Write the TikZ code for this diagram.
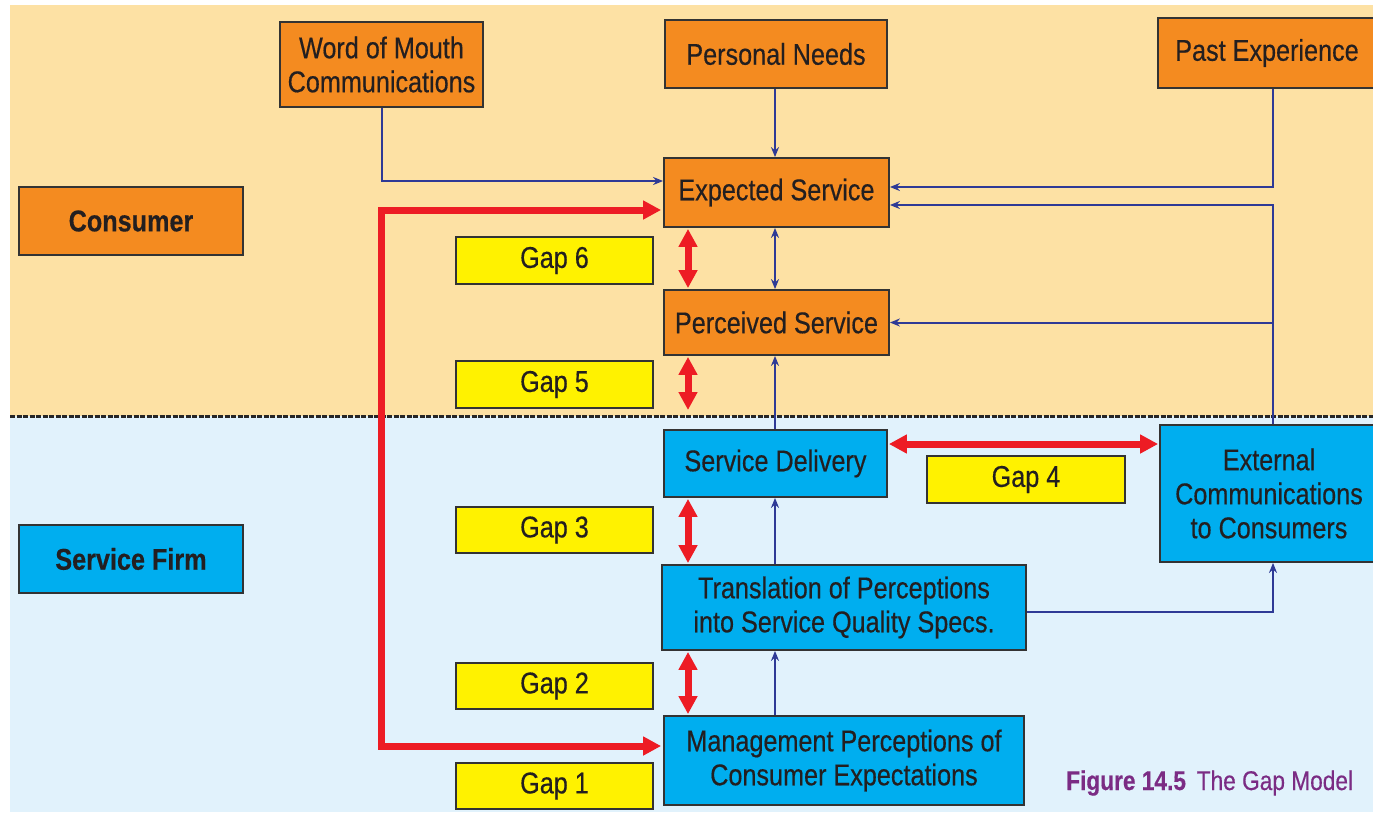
\documentclass[tikz,border=0pt]{standalone}
\usepackage{fontspec}
\setmainfont{Liberation Sans}[FakeStretch=0.84, FakeBold=0.4]
\usetikzlibrary{arrows.meta}
\definecolor{peach}{HTML}{FDE1A4}
\definecolor{lightblue}{HTML}{E1F2FC}
\definecolor{orangebox}{HTML}{F48B20}
\definecolor{bluebox}{HTML}{00AEEF}
\definecolor{yellowbox}{HTML}{FFF200}
\definecolor{redline}{HTML}{ED1C24}
\definecolor{blueline}{HTML}{2E3A96}
\definecolor{boxline}{HTML}{333333}
\definecolor{txt}{HTML}{231F20}
\definecolor{capcol}{HTML}{7B2C84}
\newcommand{\fs}{\fontsize{30}{34}\selectfont}
\newcommand{\capfs}{\fontsize{27}{32}\selectfont}
\tikzset{
  box/.style={draw=boxline, line width=1.8pt, inner sep=0pt, align=center, text=txt, font=\fs},
  obox/.style={box, fill=orangebox},
  bbox/.style={box, fill=bluebox},
  gbox/.style={box, fill=yellowbox},
  bl/.style={draw=blueline, line width=2pt, >={Stealth[length=10pt,width=8pt]}},
  rd/.style={draw=redline, line width=7pt, >={Triangle[length=18pt,width=18pt]}},
}
\begin{document}
\begin{tikzpicture}[x=1pt,y=-1pt]
\useasboundingbox (0,0) rectangle (1373,812);
\clip (0,0) rectangle (1373,812);
\fill[white] (0,0) rectangle (1373,812);
\fill[peach] (10,5) rectangle (1373,416);
\fill[lightblue] (10,416) rectangle (1373,812);
\draw[black!85, line width=3pt, dash pattern=on 5pt off 1.5pt] (10,416) -- (1373,416);

% consumer side
\node[obox, minimum width=203pt, minimum height=85pt] (wom) at (381.5,64.5) {Word of Mouth\\Communications};
\node[obox, minimum width=222pt, minimum height=68pt] (pneeds) at (776,54) {Personal Needs};
\node[obox, minimum width=218pt, minimum height=70pt] (past) at (1267,53) {Past Experience};
\node[obox, minimum width=224pt, minimum height=68pt, font=\fs\bfseries] (consumer) at (131,221) {Consumer};
\node[obox, minimum width=225pt, minimum height=69pt] (expected) at (776.5,192.5) {Expected Service};
\node[obox, minimum width=225pt, minimum height=65pt] (perceived) at (776.5,322.5) {Perceived Service};
\node[gbox, minimum width=197pt, minimum height=47pt] (gap6) at (554.5,260.5) {Gap 6};
\node[gbox, minimum width=197pt, minimum height=47pt] (gap5) at (554.5,384.5) {Gap 5};

% firm side
\node[bbox, minimum width=223pt, minimum height=67pt] (delivery) at (775.5,463.5) {Service Delivery};
\node[gbox, minimum width=198pt, minimum height=47pt] (gap4) at (1026,479.5) {Gap 4};
\node[bbox, minimum width=218pt, minimum height=137pt] (extcomm) at (1269,493.5) {External\\Communications\\to Consumers};
\node[bbox, minimum width=224pt, minimum height=68pt, font=\fs\bfseries] (firm) at (131,559) {Service Firm};
\node[gbox, minimum width=197pt, minimum height=46pt] (gap3) at (554.5,530) {Gap 3};
\node[bbox, minimum width=364pt, minimum height=85pt] (translation) at (844,607.5) {Translation of Perceptions\\into Service Quality Specs.};
\node[gbox, minimum width=197pt, minimum height=46pt] (gap2) at (554.5,686) {Gap 2};
\node[bbox, minimum width=360pt, minimum height=89pt] (management) at (844,760.5) {Management Perceptions of\\Consumer Expectations};
\node[gbox, minimum width=197pt, minimum height=46pt] (gap1) at (554.5,786) {Gap 1};

\node[anchor=base west, inner sep=0pt, text=capcol, font=\capfs] (caption) at (1066,790) {\textbf{Figure 14.5}\hspace{0.4em}The Gap Model};

% helper coordinates
\coordinate (bx) at (775,0);
\coordinate (rx) at (1273,0);
\coordinate (rc) at (688,0);
\coordinate (lx) at (381,480);
\coordinate (g5end) at (688,410);
\coordinate (g4y) at (0,444);

% blue connectors
\draw[bl,->] (wom.south) |- ([yshift=11.5pt]expected.west);
\draw[bl,->] (pneeds.south -| bx) -- (expected.north -| bx);
\draw[bl,->] (past.south -| rx) |- ([yshift=5.5pt]expected.east);
\draw[bl,->] (extcomm.north -| rx) |- ([yshift=-12.5pt]expected.east);
\draw[bl,->] (extcomm.north -| rx) |- (perceived.east);
\draw[bl,<->] (expected.south -| bx) -- (perceived.north -| bx);
\draw[bl,->] (delivery.north -| bx) -- (perceived.south -| bx);
\draw[bl,->] (translation.north -| bx) -- (delivery.south -| bx);
\draw[bl,->] (management.north -| bx) -- (translation.south -| bx);
\draw[bl,->] ([yshift=-4.5pt]translation.east) -| (extcomm.south -| rx);

% red gap arrows
\draw[rd,<->] ([yshift=-1pt]expected.south -| rc) -- ([yshift=1pt]perceived.north -| rc);
\draw[rd,<->] ([yshift=-1pt]perceived.south -| rc) -- (g5end);
\draw[rd,<->] ([yshift=-1pt]delivery.south -| rc) -- ([yshift=1pt]translation.north -| rc);
\draw[rd,<->] ([yshift=-1pt]translation.south -| rc) -- ([yshift=1pt]management.north -| rc);
\draw[rd,<->] ([xshift=1pt]delivery.east |- g4y) -- ([xshift=-1pt]extcomm.west |- g4y);
\draw[rd,<->] ([xshift=-2pt,yshift=-17.5pt]expected.west) -| (lx) |- ([xshift=-2pt,yshift=14.5pt]management.west);
\end{tikzpicture}
\end{document}
